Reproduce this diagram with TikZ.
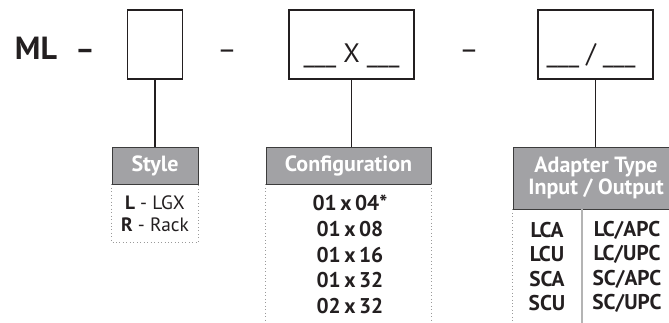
\documentclass[tikz,border=0pt]{standalone}
\usepackage{fontspec}
\setmainfont{PT Sans}
\usetikzlibrary{positioning}

\begin{document}
\begin{tikzpicture}[
    x=0.75pt, y=-0.75pt,
    every node/.style={text=ink},
    slot/.style={draw=ink, line width=1.3pt, minimum width=#1,
        minimum height=51.75pt, inner sep=0pt},
    head/.style={fill=headgray, draw=edgegray, line width=0.6pt,
        text=white, font=\fontsize{16.5}{16.5}\selectfont\bfseries,
        align=center, inner sep=0pt},
    link/.style={draw=ink, line width=1.3pt},
    dots/.style={draw=dotgray, dotted, line width=0.6pt},
    rowtext/.style={font=\fontsize{16}{18}\selectfont\bfseries},
]

\definecolor{ink}{HTML}{231F20}
\definecolor{headgray}{HTML}{A2A2A5}
\definecolor{edgegray}{HTML}{3C3C3C}
\definecolor{dotgray}{HTML}{9A9A9A}
\definecolor{splitgray}{HTML}{B4B4B4}

\useasboundingbox (0,0) rectangle (669,322);
\clip (0,0) rectangle (669,322);

% ---------------------------------------------------------------- part number
\node[font=\fontsize{24}{26}\selectfont\bfseries, anchor=base] (ml) at (36,59) {ML};
\node[font=\fontsize{22}{24}\selectfont\bfseries, anchor=base] (dash1) at (85,59) {–};
\node[font=\fontsize{22}{24}\selectfont, anchor=base] (dash2) at (227,59) {–};
\node[font=\fontsize{22}{24}\selectfont, anchor=base] (dash3) at (469,59) {–};

\node[slot=41.25pt] (stylebox) at (155,44.5) {};
\node[slot=93.75pt] (cfgbox) at (351.5,44.5) {};
\node[slot=86.25pt] (adpbox) at (595.5,44.5) {};

\node[font=\fontsize{20}{22}\selectfont, anchor=base] (cfgfill) at (351.5,62) {\_\_\_ X \_\_\_};
\node[font=\fontsize{20}{22}\selectfont, anchor=base] (adpfill) at (591,62) {\_\_\_ / \_\_\_};

% ---------------------------------------------------------------- headers
\node[head, minimum width=64.5pt, minimum height=27.75pt] (stylehead) at (155,165.5) {Style};
\node[head, minimum width=123.75pt, minimum height=27.75pt] (cfghead) at (348.5,165.5) {Configuration};
\node[head, minimum width=124.5pt, minimum height=46.5pt] (adphead) at (596,178)
    {Adapter Type\\Input / Output};

\draw[link] (stylebox.south) -- (stylehead.north);
\draw[link] (cfgbox.south) -- (cfgbox.south |- cfghead.north);
\draw[link] (adpbox.south) -- (adpbox.south |- adphead.north);

% ---------------------------------------------------------------- lists
\draw[dots] (stylehead.south west) -- ++(0,58) -| (stylehead.south east);
\draw[dots] (cfghead.south west) -- ++(0,140);
\draw[dots] (cfghead.south east) -- ++(0,140);
\draw[dots] (adphead.south west) -- ++(0,115);
\coordinate (split) at (582,209);
\draw[splitgray, line width=1pt] (split) -- ++(0,115);

\node[font=\fontsize{14.5}{16}\selectfont] (styleL) at (155,203) {\textbf{L} - LGX};
\node[font=\fontsize{14.5}{16}\selectfont] (styleR) at (155,225) {\textbf{R} - Rack};

\foreach \t [count=\i from 0] in {01\,x\,04*, 01\,x\,08, 01\,x\,16, 01\,x\,32, 02\,x\,32} {
    \node[rowtext] (cfg\i) at (350,203+\i*25.8) {\t};
}

\foreach \a/\b [count=\i from 0] in {LCA/LC\slash APC, LCU/LC\slash UPC, SCA/SC\slash APC, SCU/SC\slash UPC} {
    \node[rowtext] (in\i) at (547,230+\i*24.5) {\a};
    \node[rowtext] (out\i) at (627,230+\i*24.5) {\b};
}

\end{tikzpicture}
\end{document}
